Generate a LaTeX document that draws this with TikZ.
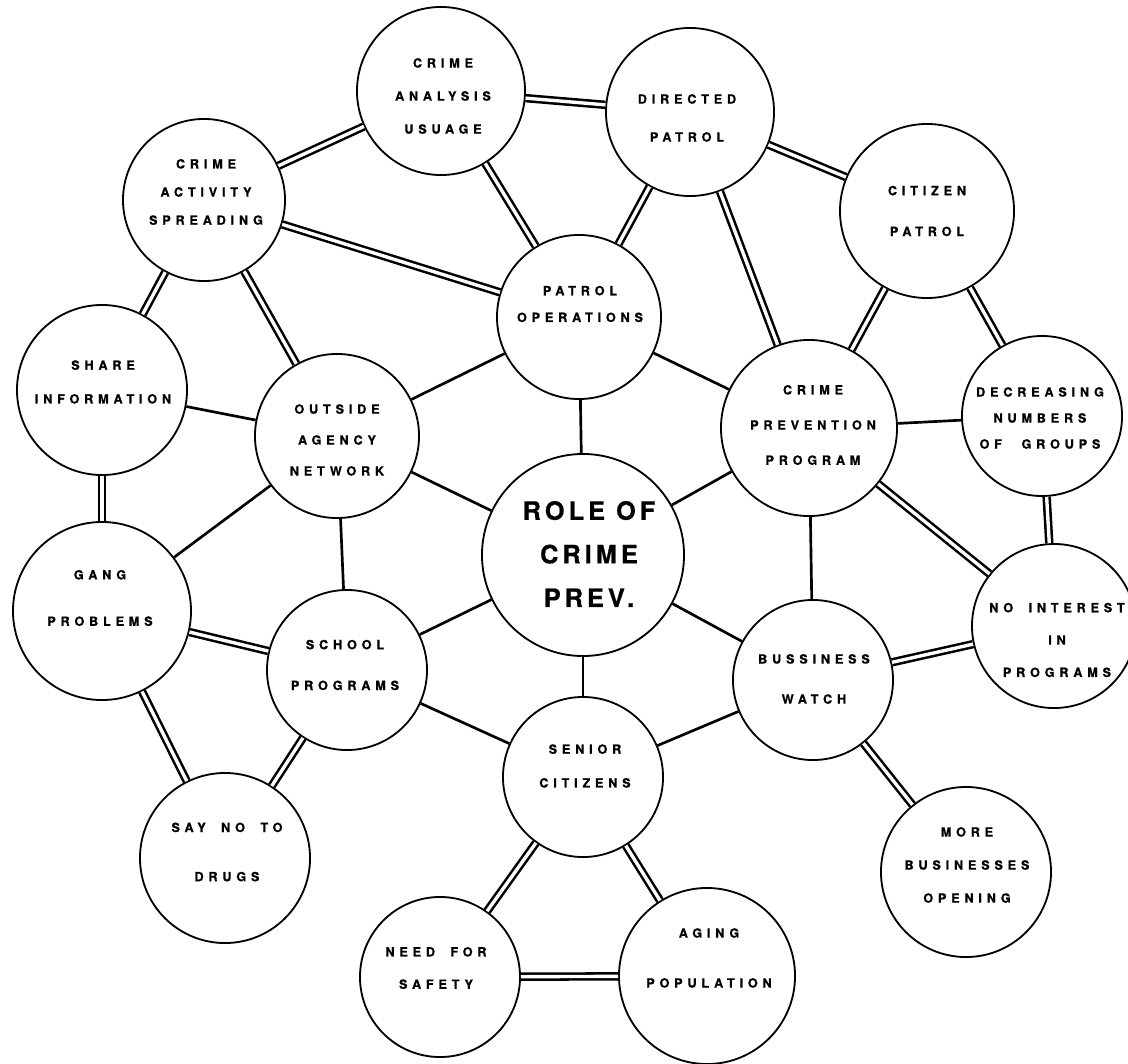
\documentclass[tikz,border=0pt]{standalone}
\usepackage{fontspec}
\newfontfamily\lblfont[LetterSpace=38, BoldFeatures={FakeBold=0.8}]{TeX Gyre Heros}
\newfontfamily\rolefont[LetterSpace=16, BoldFeatures={FakeBold=0.6}]{TeX Gyre Heros}

\begin{document}
\begin{tikzpicture}[
    x=0.025cm, y=-0.025cm,
    bubble/.style={circle, draw=black, line width=1.3pt, inner sep=0pt, minimum size=#1*0.05cm},
    txt/.style={align=center, font=\lblfont\bfseries\fontsize{9}{#1}\selectfont},
    link/.style={draw=black, line width=1.9pt},
    dlink/.style={draw=black, double=white, double distance=2.4pt, line width=1.8pt}]

    \useasboundingbox (0,0) rectangle (1128,1063);

    \node[bubble=84] (cau) at (441,91) {};
    \node[txt=23.5] (cau-t) at (443,96) {CRIME\\ANALYSIS\\USUAGE};

    \node[bubble=84] (dir) at (690,112) {};
    \node[txt=27] (dir-t) at (687,118) {DIRECTED\\PATROL};

    \node[bubble=87] (cit) at (927,211) {};
    \node[txt=29] (cit-t) at (927,211) {CITIZEN\\PATROL};

    \node[bubble=81] (cas) at (204,200) {};
    \node[txt=20] (cas-t) at (206,192) {CRIME\\ACTIVITY\\SPREADING};

    \node[bubble=82] (pop) at (579,317) {};
    \node[txt=19] (pop-t) at (580,304) {PATROL\\OPERATIONS};

    \node[bubble=85] (shr) at (102,390) {};
    \node[txt=24] (shr-t) at (103,382) {SHARE\\INFORMATION};

    \node[bubble=82] (oan) at (337,436) {};
    \node[txt=22] (oan-t) at (337,440) {OUTSIDE\\AGENCY\\NETWORK};

    \node[bubble=88] (cpp) at (809,428) {};
    \node[txt=25] (cpp-t) at (813,425) {CRIME\\PREVENTION\\PROGRAM};

    \node[bubble=80] (dec) at (1042,416) {};
    \node[txt=18.5] (dec-t) at (1040,418) {DECREASING\\NUMBERS\\OF\hspace{8pt} GROUPS};

    \node[bubble=101] (role) at (583,555) {};
    \node[align=center, font=\rolefont\bfseries\fontsize{18}{31}\selectfont] (role-t) at (589,554) {ROLE OF\\CRIME\\PREV.};

    \node[bubble=89] (gang) at (102,611) {};
    \node[txt=33] (gang-t) at (100,598) {GANG\\PROBLEMS};

    \node[bubble=80] (sch) at (347,670) {};
    \node[txt=29] (sch-t) at (345,665) {SCHOOL\\PROGRAMS};

    \node[bubble=80] (bus) at (813,680) {};
    \node[txt=28.5] (bus-t) at (814,679) {BUSSINESS\\WATCH};

    \node[bubble=82] (noi) at (1054,626) {};
    \node[txt=23] (noi-t) at (1057,640) {NO\hspace{5pt} INTEREST\\IN\\PROGRAMS};

    \node[bubble=80] (sen) at (583,777) {};
    \node[txt=24] (sen-t) at (585,766) {SENIOR\\CITIZENS};

    \node[bubble=85] (say) at (225,858) {};
    \node[txt=35] (say-t) at (227,852) {SAY\hspace{5pt} NO\hspace{5pt} TO\\DRUGS};

    \node[bubble=85] (more) at (966,872) {};
    \node[txt=23.5] (more-t) at (967,865) {MORE\\BUSINESSES\\OPENING};

    \node[bubble=80] (need) at (440,977) {};
    \node[txt=23] (need-t) at (436,968) {NEED\hspace{5pt} FOR\\SAFETY};

    \node[bubble=88] (aging) at (707,976) {};
    \node[txt=35.5] (aging-t) at (709,958) {AGING\\POPULATION};

    % double links
    \draw[dlink] (cas)--(cau);
    \draw[dlink] (cau)--(dir);
    \draw[dlink] (dir)--(cit);
    \draw[dlink] (cas)--(pop);
    \draw[dlink] (cau)--(pop);
    \draw[dlink] (dir)--(pop);
    \draw[dlink] (dir)--(cpp);
    \draw[dlink] (cit)--(cpp);
    \draw[dlink] (cit)--(dec);
    \draw[dlink] (cas)--(shr);
    \draw[dlink] (cas)--(oan);
    \draw[dlink] (shr)--(gang);
    \draw[dlink] (gang)--(sch);
    \draw[dlink] (gang)--(say);
    \draw[dlink] (sch)--(say);
    \draw[dlink] (dec)--(noi);
    \draw[dlink] (cpp)--(noi);
    \draw[dlink] (bus)--(noi);
    \draw[dlink] (bus)--(more);
    \draw[dlink] (sen)--(need);
    \draw[dlink] (sen)--(aging);
    \draw[dlink] (need)--(aging);

    % single links
    \draw[link] (shr)--(oan);
    \draw[link] (oan)--(pop);
    \draw[link] (oan)--(role);
    \draw[link] (oan)--(gang);
    \draw[link] (oan)--(sch);
    \draw[link] (pop)--(role);
    \draw[link] (pop)--(cpp);
    \draw[link] (cpp)--(role);
    \draw[link] (cpp)--(dec);
    \draw[link] (cpp)--(bus);
    \draw[link] (role)--(sch);
    \draw[link] (role)--(bus);
    \draw[link] (role)--(sen);
    \draw[link] (sch)--(sen);
    \draw[link] (sen)--(bus);
\end{tikzpicture}
\end{document}
